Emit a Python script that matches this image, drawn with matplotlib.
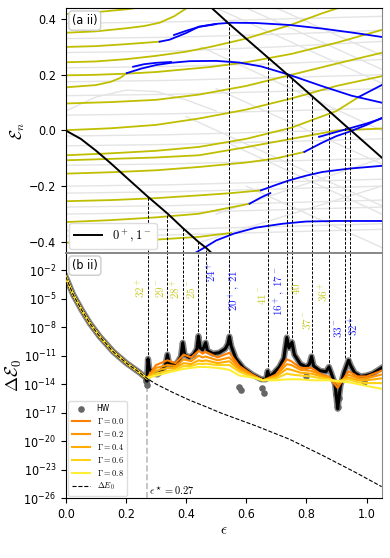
"""
Level crossings (a ii) and ground-state splitting (b ii) vs epsilon.
"""
import matplotlib
matplotlib.use("Agg")
import matplotlib.pyplot as plt
import numpy as np

plt.rcParams["mathtext.fontset"] = "cm"
plt.rcParams["font.stretch"] = "condensed"

# ---------------- panel (a ii): spectrum ----------------
# main crossing state 0+,1- (two branches)
BLACK_EPS_1 = [0.0, 0.05, 0.1, 0.15, 0.2, 0.27, 0.338, 0.389, 0.441, 0.465, 0.5]
BLACK_E_1 = [0.0, -0.03, -0.072, -0.118, -0.167, -0.235, -0.298, -0.35, -0.40, -0.42, -0.455]
BLACK_EPS_2 = [0.47, 0.544, 0.671, 0.735, 0.752, 0.817, 0.875, 0.928, 0.944, 1.05]
BLACK_E_2 = [0.455, 0.382, 0.263, 0.203, 0.187, 0.125, 0.07, 0.019, 0.004, -0.097]

# yellow levels (eps, E)
YELLOW_SEGMENTS = [
    ([0, 0.1, 0.2, 0.3], [0.418, 0.425, 0.435, 0.45]),
    ([0, 0.1, 0.2, 0.26, 0.312, 0.36, 0.41], [0.351, 0.356, 0.367, 0.375, 0.387, 0.41, 0.445]),
    ([0, 0.1, 0.2, 0.312], [0.30, 0.303, 0.31, 0.319]),
    ([0, 0.1, 0.2, 0.3, 0.4, 0.48, 0.6, 0.75, 0.85, 0.92], [0.245, 0.248, 0.256, 0.268, 0.283, 0.3, 0.33, 0.38, 0.42, 0.445]),
    ([0, 0.1, 0.2, 0.3, 0.48, 0.6, 0.75, 0.9, 1.05], [0.198, 0.2, 0.204, 0.21, 0.228, 0.245, 0.275, 0.315, 0.361]),
    ([0, 0.1, 0.15, 0.18, 0.203], [0.155, 0.163, 0.175, 0.188, 0.206]),
    ([0, 0.15, 0.3, 0.443, 0.6, 0.75, 0.9, 1.05], [0.097, 0.102, 0.11, 0.129, 0.16, 0.2, 0.24, 0.279]),
    ([0, 0.15, 0.3, 0.443, 0.6, 0.75, 0.9, 1.05], [0.001, 0.008, 0.02, 0.043, 0.075, 0.115, 0.16, 0.195]),
    ([0, 0.15, 0.3, 0.443, 0.6, 0.75, 0.9, 0.975], [-0.089, -0.082, -0.073, -0.059, -0.03, 0.01, 0.07, 0.121]),
    ([0, 0.15, 0.3, 0.443, 0.6, 0.75, 0.9, 1.05], [-0.107, -0.102, -0.097, -0.089, -0.06, -0.03, 0.0, 0.007]),
    ([0, 0.15, 0.3, 0.443, 0.6, 0.7, 0.793], [-0.155, -0.15, -0.143, -0.131, -0.115, -0.1, -0.077]),
    ([0, 0.15, 0.3, 0.443, 0.55, 0.649], [-0.254, -0.25, -0.243, -0.233, -0.225, -0.215]),
    ([0, 0.15, 0.3, 0.443, 0.611], [-0.329, -0.322, -0.312, -0.299, -0.263]),
    ([0, 0.15, 0.3, 0.443, 0.55], [-0.403, -0.398, -0.392, -0.382, -0.368]),
]

BLUE_SEGMENTS = [
    ([0.312, 0.345, 0.4, 0.443, 0.5, 0.55, 0.632, 0.743, 0.853, 0.963, 1.05],
     [0.319, 0.326, 0.35, 0.373, 0.383, 0.387, 0.386, 0.379, 0.366, 0.35, 0.336]),
    ([0.36, 0.4, 0.443, 0.5], [0.343, 0.358, 0.372, 0.382]),
    ([0.203, 0.25, 0.3, 0.35, 0.412, 0.5, 0.577, 0.65, 0.743, 0.85, 0.95, 1.05],
     [0.206, 0.222, 0.235, 0.243, 0.249, 0.25, 0.244, 0.23, 0.2, 0.16, 0.125, 0.1]),
    ([0.224, 0.26, 0.3, 0.35], [0.229, 0.238, 0.243, 0.246]),
    ([0.842, 0.9, 0.941, 1.0, 1.05], [-0.023, -0.005, 0.007, 0.025, 0.043]),
    ([0.793, 0.85, 0.9, 0.941, 1.0, 1.05], [-0.077, -0.045, -0.02, -0.005, 0.02, 0.045]),
    ([0.975, 1.0, 1.05], [0.121, 0.135, 0.163]),
    ([0.649, 0.7, 0.743, 0.8, 0.853, 0.941, 1.05], [-0.215, -0.195, -0.179, -0.162, -0.149, -0.137, -0.127]),
    ([0.611, 0.65, 0.68], [-0.263, -0.24, -0.225]),
    ([0.43, 0.462, 0.5, 0.56, 0.632, 0.72, 0.798, 0.9, 1.05],
     [-0.44, -0.42, -0.395, -0.37, -0.349, -0.335, -0.327, -0.325, -0.325]),
]

# faint background levels
GRAY_SEGMENTS = [
    ([0, 0.35, 0.7, 1.05], [0.385, 0.39, 0.4, 0.41]),
    ([0, 0.35, 0.7, 1.05], [0.33, 0.335, 0.345, 0.36]),
    ([0, 0.35, 0.7, 1.05], [0.28, 0.285, 0.3, 0.32]),
    ([0, 0.35, 0.7, 1.05], [0.225, 0.23, 0.24, 0.255]),
    ([0, 0.35, 0.7, 1.05], [0.175, 0.18, 0.19, 0.2]),
    ([0, 0.35, 0.7, 1.05], [0.125, 0.13, 0.14, 0.15]),
    ([0, 0.35, 0.7, 1.05], [0.055, 0.06, 0.07, 0.08]),
    ([0, 0.35, 0.7, 1.05], [-0.02, -0.015, -0.005, 0.005]),
    ([0, 0.35, 0.7, 1.05], [-0.055, -0.05, -0.04, -0.03]),
    ([0, 0.35, 0.7, 1.05], [-0.125, -0.12, -0.11, -0.1]),
    ([0, 0.35, 0.7, 1.05], [-0.2, -0.195, -0.185, -0.175]),
    ([0, 0.35, 0.7, 1.05], [-0.225, -0.22, -0.21, -0.2]),
    ([0, 0.35, 0.7, 1.05], [-0.275, -0.27, -0.26, -0.25]),
    ([0, 0.35, 0.7, 1.05], [-0.3, -0.295, -0.285, -0.275]),
    ([0, 0.35, 0.7, 1.05], [-0.36, -0.355, -0.345, -0.335]),
    ([0, 0.35, 0.7, 1.05], [-0.38, -0.375, -0.365, -0.355]),
    ([0, 0.1, 0.2, 0.3, 0.4, 0.5], [0.07, 0.12, 0.145, 0.14, 0.11, 0.07]),
    ([0.5, 1.05], [0.44, 0.17]),
    ([0.6, 1.05], [0.44, 0.22]),
    ([0.7, 1.05], [0.44, 0.27]),
    ([0.45, 1.05], [0.3, 0.0]),
    ([0.5, 1.05], [0.15, -0.12]),
    ([0.4, 1.05], [0.05, -0.27]),
    ([0.55, 1.05], [-0.05, -0.3]),
    ([0.6, 1.05], [-0.2, -0.42]),
    ([0.5, 1.05], [-0.3, -0.1]),
    ([0.45, 1.05], [-0.4, -0.2]),
]

# crossings: eps, energy on black line, peak in (b ii), label, colour, label pos
CROSS_EPS = [0.2735, 0.338, 0.389, 0.441, 0.465, 0.544, 0.671, 0.735, 0.752, 0.817, 0.875, 0.928, 0.944]
CROSS_E = [-0.237, -0.30, -0.35, -0.40, -0.42, 0.382, 0.263, 0.203, 0.187, 0.125, 0.07, 0.019, 0.004]
CROSS_PEAK = [-11.35, -10.9, -9.65, -8.95, -9.65, -9.0, -12.65, -9.1, -9.6, -11.1, -12.2, -11.3, -11.6]
CROSS_LABELS = ["$32^+$", "$29^-$", "$28^+$", "$25^-$", "$24^+$", r"$20^+,\ 21^-$", "$41^-$",
                r"$16^+,\ 17^-$", "$40^-$", "$37^-$", "$36^+$", "$33^-$", "$32^+$"]
CROSS_COLORS = ["y", "y", "y", "y", "b", "b", "y", "b", "y", "y", "y", "b", "b"]
LABEL_EPS = [0.249, 0.312, 0.365, 0.415, 0.487, 0.561, 0.652, 0.710, 0.767, 0.801, 0.859, 0.905, 0.958]
LABEL_LOG = [-3.8, -3.9, -4.0, -4.0, -2.2, -3.7, -4.6, -4.2, -3.5, -7.2, -4.3, -8.1, -7.9]

# ---------------- panel (b ii): splitting ----------------
LOW_EPS = [0.0, 0.025, 0.053, 0.08, 0.113, 0.158, 0.202, 0.246, 0.27]
LOW_LOG = [-2.7, -4.6, -6.2, -7.6, -9.0, -10.6, -11.8, -12.8, -13.4]

EXACT_EPS = [0.0, 0.025, 0.053, 0.08, 0.113, 0.158, 0.202, 0.246, 0.265, 0.270, 0.2735, 0.278,
             0.29, 0.305, 0.32, 0.332, 0.338, 0.344, 0.355, 0.37, 0.383, 0.389, 0.395, 0.41,
             0.425, 0.436, 0.441, 0.447, 0.455, 0.465, 0.471, 0.49, 0.51, 0.53, 0.539, 0.544,
             0.55, 0.565, 0.59, 0.62, 0.65, 0.666, 0.671, 0.677, 0.69, 0.71, 0.725, 0.735,
             0.742, 0.752, 0.76, 0.78, 0.80, 0.81, 0.817, 0.824, 0.845, 0.865, 0.875, 0.882,
             0.895, 0.904, 0.913, 0.925, 0.94, 0.948, 0.96, 0.98, 1.0, 1.02, 1.05]
EXACT_LOG = [-2.7, -4.6, -6.2, -7.6, -9.0, -10.6, -11.8, -12.8, -13.3, -13.7, -11.35, -12.4,
             -12.9, -13.0, -12.6, -12.0, -10.9, -11.9, -12.0, -11.8, -11.1, -9.65, -10.9, -11.2,
             -10.9, -10.3, -8.95, -10.2, -10.4, -9.65, -10.5, -10.8, -10.7, -10.3, -9.8, -9.0,
             -10.0, -11.3, -12.3, -13.0, -13.5, -13.5, -12.65, -13.2, -12.9, -12.2, -11.3, -9.1,
             -10.2, -9.6, -10.9, -11.9, -12.2, -11.9, -11.1, -12.1, -12.6, -12.7, -12.2, -12.8,
             -14.0, -16.6, -14.2, -12.8, -11.5, -12.1, -12.8, -13.2, -13.1, -12.9, -12.3]

HW_EPS = [0.267, 0.27, 0.577, 0.582, 0.653, 0.658, 0.80, 0.898, 0.905, 0.91, 0.99]
HW_LOG = [-13.7, -14.1, -14.3, -14.6, -14.4, -14.9, -13.1, -15.0, -16.4, -15.5, -13.8]

GAMMA_EPS = [0.3, 0.338, 0.365, 0.392, 0.417, 0.442, 0.455, 0.465, 0.505, 0.544, 0.577, 0.62,
             0.655, 0.671, 0.70, 0.735, 0.75, 0.78, 0.816, 0.85, 0.873, 0.904, 0.94, 0.97, 1.0, 1.05]
GAMMA_VALUES = [0.0, 0.2, 0.4, 0.6, 0.8]
GAMMA_COLORS = ["#ff7f00", "#ff9500", "#ffad00", "#ffd21a", "#ffee33"]
GAMMA_LOG = [
    [-12.0, -11.5, -11.8, -10.9, -11.2, -10.5, -10.8, -10.6, -11.2, -10.7, -12.1, -13.0,
     -13.6, -13.4, -13.0, -11.4, -11.6, -12.3, -12.3, -13.0, -13.2, -14.4, -12.65, -13.2, -13.2, -12.6],
    [-12.3, -12.0, -12.1, -11.4, -11.6, -11.0, -11.2, -11.1, -11.5, -11.2, -12.3, -13.1,
     -13.6, -13.5, -13.1, -11.9, -12.0, -12.5, -12.6, -13.1, -13.3, -14.0, -13.0, -13.4, -13.4, -13.0],
    [-12.6, -12.3, -12.3, -11.8, -11.9, -11.5, -11.6, -11.5, -11.8, -11.6, -12.5, -13.2,
     -13.6, -13.5, -13.2, -12.4, -12.5, -12.8, -12.9, -13.2, -13.4, -13.8, -13.3, -13.6, -13.6, -13.4],
    [-12.9, -12.6, -12.5, -12.1, -12.1, -11.85, -11.9, -11.85, -12.0, -12.0, -12.7, -13.25,
     -13.6, -13.55, -13.4, -12.9, -13.0, -13.1, -13.2, -13.4, -13.5, -13.7, -13.5, -13.8, -13.9, -13.9],
    [-13.1, -12.8, -12.6, -12.4, -12.3, -12.2, -12.2, -12.2, -12.3, -12.5, -13.1, -13.3,
     -13.6, -13.6, -13.6, -13.5, -13.5, -13.5, -13.6, -13.6, -13.6, -13.7, -13.8, -14.0, -14.2, -14.5],
]

DE0_EPS = [0.3, 0.357, 0.412, 0.467, 0.52, 0.632, 0.743, 0.853, 0.963, 1.05]
DE0_LOG = [-14.0, -14.9, -15.7, -16.4, -17.1, -18.4, -19.8, -21.5, -23.3, -24.8]

EPS_STAR = 0.27
XMAX = 1.05
E_LIM = (-0.44, 0.44)
LOG_LIM = (-26, -0.2)
DASH = (0, (3, 1.5))
TICK_SIZE = 9


def plot_spectrum(ax):
    for eps, e in GRAY_SEGMENTS:
        ax.plot(eps, e, color="#e4e4e4", lw=1.0, zorder=1)
    for eps, e in YELLOW_SEGMENTS:
        ax.plot(eps, e, color="y", lw=1.3, zorder=2)
    for eps, e in BLUE_SEGMENTS:
        ax.plot(eps, e, color="b", lw=1.3, zorder=3)
    ax.plot(BLACK_EPS_1, BLACK_E_1, color="k", lw=1.4, zorder=4, label="$0^+, 1^-$")
    ax.plot(BLACK_EPS_2, BLACK_E_2, color="k", lw=1.4, zorder=4)
    ax.vlines(CROSS_EPS, E_LIM[0], CROSS_E, colors="k", linestyles=DASH, lw=0.7, zorder=5)

    ax.set_xlim(0, XMAX)
    ax.set_ylim(*E_LIM)
    ax.set_yticks([-0.4, -0.2, 0.0, 0.2, 0.4])
    ax.tick_params(axis="x", bottom=False, labelbottom=False)
    ax.tick_params(axis="y", labelsize=TICK_SIZE)
    ax.set_ylabel(r"$\mathcal{E}_n$", fontsize=12)
    ax.yaxis.set_label_coords(-0.122, 0.5)
    ax.text(0.02, 0.975, "(a ii)", transform=ax.transAxes, fontsize=9, va="top", ha="left",
            bbox=dict(boxstyle="round,pad=0.25", fc="white", ec="#cccccc"))
    ax.legend(loc="lower left", fontsize=9, handlelength=2.2, borderaxespad=0.3, framealpha=1,
              edgecolor="#dddddd")
    ax.spines["right"].set_color("#888888")
    ax.spines["bottom"].set_color("#888888")
    ax.spines["bottom"].set_linewidth(1.4)


def plot_splitting(ax):
    exact = 10.0 ** np.array(EXACT_LOG)
    ax.plot(EXACT_EPS, exact, color="#666666", lw=4.5, alpha=0.8, zorder=2)
    ax.scatter(HW_EPS, 10.0 ** np.array(HW_LOG), s=14, color="#666666", zorder=2, label="HW")
    ax.plot(EXACT_EPS, exact, color="k", lw=2.2, zorder=3)

    for g, col, vals in zip(GAMMA_VALUES, GAMMA_COLORS, GAMMA_LOG):
        eps = LOW_EPS + GAMMA_EPS
        logs = LOW_LOG + vals
        ax.plot(eps, 10.0 ** np.array(logs), color=col, lw=1.5, zorder=4,
                label=r"$\Gamma = %.1f$" % g)

    ax.plot(LOW_EPS + DE0_EPS, 10.0 ** np.array(LOW_LOG + DE0_LOG), color="k", ls="--",
            lw=0.8, zorder=5, label=r"$\Delta E_0$")

    top = 10.0 ** LOG_LIM[1]
    ax.vlines(CROSS_EPS, 10.0 ** np.array(CROSS_PEAK), top, colors="k", linestyles=DASH,
              lw=0.7, zorder=1)
    ax.vlines(EPS_STAR, 10.0 ** LOG_LIM[0], 10.0 ** -13.9, colors="#bbbbbb", linestyles="--",
              lw=1.2, zorder=1)
    ax.text(EPS_STAR + 0.008, 10.0 ** -25.2, r"$\epsilon^\star = 0.27$", fontsize=7.5,
            ha="left", va="center")

    for x, lg, txt, col in zip(LABEL_EPS, LABEL_LOG, CROSS_LABELS, CROSS_COLORS):
        ax.text(x, 10.0 ** lg, txt, color=col, alpha=0.85, rotation=90, fontsize=8,
                ha="center", va="center")

    ax.set_yscale("log")
    ax.set_xlim(0, XMAX)
    ax.set_ylim(10.0 ** LOG_LIM[0], 10.0 ** LOG_LIM[1])
    ax.set_yticks([10.0 ** k for k in range(-26, -1, 3)])
    ax.yaxis.set_minor_locator(matplotlib.ticker.NullLocator())
    ax.set_xticks([0.0, 0.2, 0.4, 0.6, 0.8, 1.0])
    ax.tick_params(labelsize=TICK_SIZE)
    ax.set_xlabel(r"$\epsilon$", fontsize=11, labelpad=1)
    ax.set_ylabel(r"$\Delta\mathcal{E}_0$", fontsize=13)
    ax.yaxis.set_label_coords(-0.132, 0.5)
    ax.text(0.02, 0.975, "(b ii)", transform=ax.transAxes, fontsize=9, va="top", ha="left",
            bbox=dict(boxstyle="round,pad=0.25", fc="white", ec="#cccccc"))
    ax.legend(loc="lower left", fontsize=6, handlelength=2.2, borderaxespad=0.3, framealpha=1,
              edgecolor="#dddddd", labelspacing=0.35)
    ax.spines["right"].set_color("#888888")
    ax.spines["top"].set_color("#888888")
    ax.spines["top"].set_linewidth(1.4)


def main():
    fig = plt.figure(figsize=(3.9, 5.58), dpi=100)
    ax1 = fig.add_axes([0.1685, 0.5466, 0.810, 0.4391])
    ax2 = fig.add_axes([0.1685, 0.1075, 0.810, 0.4391])
    plot_spectrum(ax1)
    plot_splitting(ax2)
    fig.savefig("out.png", dpi=100)
    plt.close(fig)


if __name__ == "__main__":
    main()
